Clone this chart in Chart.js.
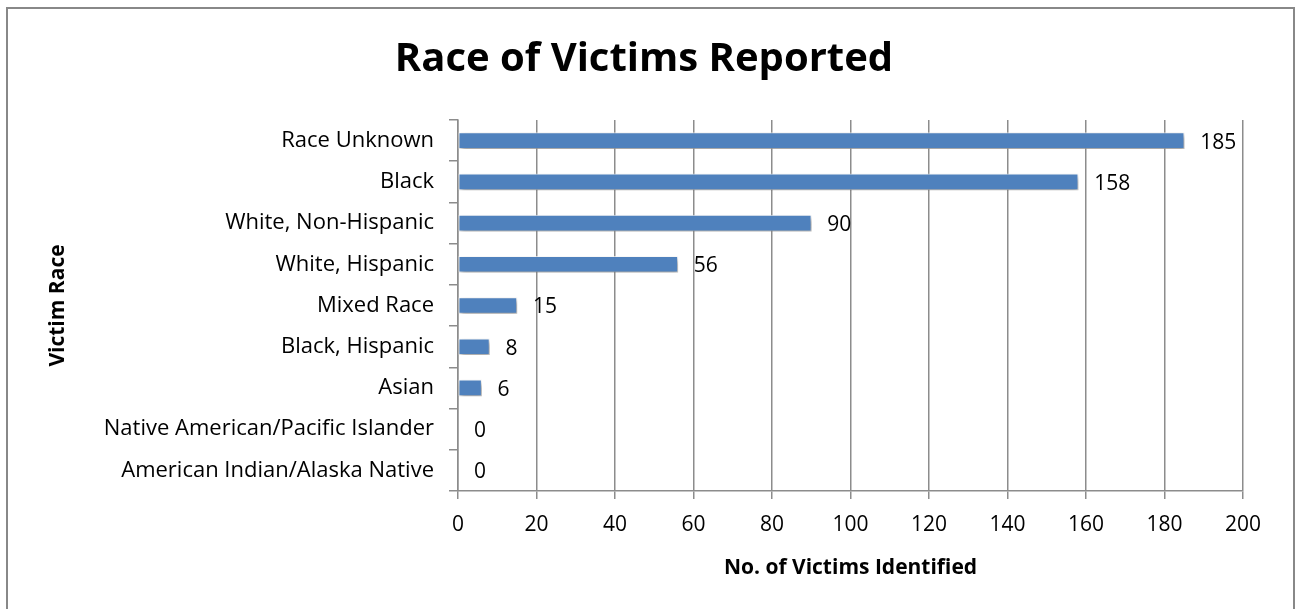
<!DOCTYPE html>
<html>
<head>
<meta charset="utf-8">
<script src="https://cdn.jsdelivr.net/npm/chart.js@4"></script>
<style>
  html, body { margin: 0; padding: 0; background: #fff; }
  #wrap { width: 1295px; height: 609px; position: relative; }
</style>
</head>
<body>
<div id="wrap"><canvas id="barChart" width="1295" height="609"></canvas></div>
<script>
// chart data
const races = [
  "Race Unknown",
  "Black",
  "White, Non-Hispanic",
  "White, Hispanic",
  "Mixed Race",
  "Black, Hispanic",
  "Asian",
  "Native American/Pacific Islander",
  "American Indian/Alaska Native",
];
const victimCounts = [185, 158, 90, 56, 15, 8, 6, 0, 0];
const xTicks = [0, 20, 40, 60, 80, 100, 120, 140, 160, 180, 200];

const FONT = "'Open Sans', Lato, sans-serif";
const gridGray = "#8c8c8c";

// outer frame like the office chart border
const framePlugin = {
  id: "frame",
  beforeDraw(chart) {
    const ctx = chart.ctx;
    ctx.save();
    ctx.fillStyle = "#fff";
    ctx.fillRect(0, 0, chart.width, chart.height);
    ctx.strokeStyle = "#888";
    ctx.lineWidth = 2;
    ctx.strokeRect(7, 8, 1287, 620);
    ctx.restore();
  },
};

// soft shadow under the bars
const shadowPlugin = {
  id: "barShadow",
  beforeDatasetsDraw(chart) {
    const ctx = chart.ctx;
    ctx.save();
    ctx.shadowColor = "rgba(0,0,0,0.4)";
    ctx.shadowOffsetX = 2;
    ctx.shadowOffsetY = 3;
    ctx.shadowBlur = 5;
  },
  afterDatasetsDraw(chart) {
    chart.ctx.restore();
  },
};

// value labels at the end of each bar
const valueLabels = {
  id: "valueLabels",
  afterDraw(chart) {
    const ctx = chart.ctx;
    const meta = chart.getDatasetMeta(0);
    ctx.save();
    ctx.font = "21px " + FONT;
    ctx.fillStyle = "#000";
    ctx.textAlign = "left";
    ctx.textBaseline = "middle";
    meta.data.forEach((bar, i) => {
      ctx.fillText(String(victimCounts[i]), bar.x + 16, bar.y + 2);
    });
    ctx.restore();
  },
};

const ctx = document.getElementById("barChart").getContext("2d");
new Chart(ctx, {
  type: "bar",
  data: {
    labels: races,
    datasets: [
      {
        data: victimCounts,
        backgroundColor: "#4f81bd",
        borderColor: "rgba(255,255,255,0.7)",
        borderWidth: 1,
        borderSkipped: false,
        barThickness: 16,
      },
    ],
  },
  options: {
    indexAxis: "y",
    responsive: false,
    animation: false,
    devicePixelRatio: 1,
    layout: { padding: { left: 45, right: 52, top: 0, bottom: 28 } },
    scales: {
      x: {
        min: 0,
        max: 200,
        afterBuildTicks(scale) {
          scale.ticks = xTicks.map((v) => ({ value: v }));
        },
        afterFit(scale) {
          scale.height = 609 - 28 - 491;
        },
        grid: {
          color: gridGray,
          lineWidth: 1.5,
          tickLength: 8,
          drawOnChartArea: true,
        },
        border: { color: gridGray, width: 1.5 },
        ticks: {
          color: "#000",
          font: { family: FONT, size: 21 },
          padding: 13,
          maxRotation: 0,
        },
        title: {
          display: true,
          text: "No. of Victims Identified",
          color: "#000",
          font: { family: FONT, size: 21, weight: "bold" },
          padding: { top: 8, bottom: 0 },
        },
      },
      y: {
        afterFit(scale) {
          scale.width = 458 - 45;
        },
        grid: {
          color: gridGray,
          lineWidth: 1.5,
          tickLength: 9,
          drawOnChartArea: false,
          offset: true,
        },
        border: { color: gridGray, width: 1.5 },
        ticks: {
          color: "#000",
          font: { family: FONT, size: 22 },
          padding: 15,
        },
        title: {
          display: true,
          text: "Victim Race",
          color: "#000",
          font: { family: FONT, size: 21, weight: "bold" },
          padding: { top: 0, bottom: 0 },
        },
      },
    },
    plugins: {
      legend: { display: false },
      tooltip: { enabled: false },
      title: {
        display: true,
        text: "Race of Victims Reported",
        color: "#000",
        font: { family: FONT, size: 40, weight: "bold" },
        padding: { top: 36, bottom: 36 },
      },
    },
  },
  plugins: [framePlugin, shadowPlugin, valueLabels],
});
</script>
</body>
</html>
